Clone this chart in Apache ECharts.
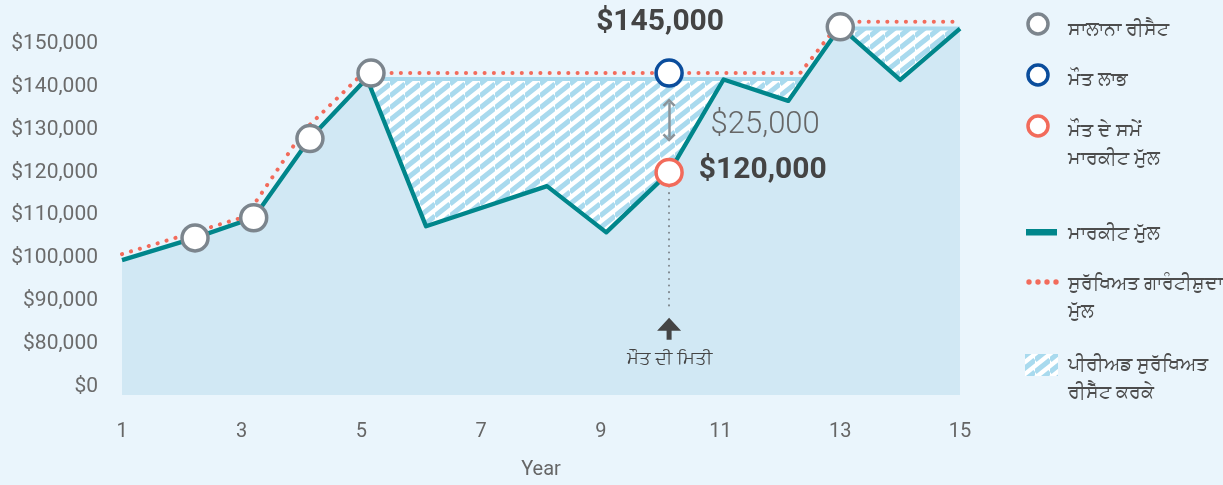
<!DOCTYPE html>
<html>
<head>
<meta charset="utf-8">
<script src="https://cdn.jsdelivr.net/npm/echarts@6/dist/echarts.min.js"></script>
<style>
  html, body { margin: 0; padding: 0; background: #eaf5fc; }
  #chart { width: 1223px; height: 485px; }
</style>
</head>
<body>
<div id="chart"></div>
<script>
// market value (teal line)
const marketYears = [1, 2.22, 3.2, 4.14, 5.09, 6.08, 8.1, 9.09, 10.14, 11.05, 12.13, 13, 14, 15]
const marketValues = [99500, 104700, 109400, 127900, 142000, 107400, 116800, 106000, 120000, 141700, 136700, 154000, 141600, 153600]

// protected guaranteed value (dotted red)
const guaranteedYears = [1, 3.07, 4.04, 5.03, 12.33, 13, 15]
const guaranteedValues = [100900, 109700, 129800, 143200, 143200, 155200, 155200]

// annual resets (grey circles)
const resetYears = [2.22, 3.2, 4.14, 5.16, 13]
const resetValues = [104700, 109400, 127900, 143200, 154000]

// locked-in level of the hatched area
const lockedYears = [5.09, 12.4, 13, 15]
const lockedValues = [141800, 141800, 153600, 153600]

// death point
const deathYear = 10.14
const deathBenefit = 143200
const deathMarketValue = 120000
const deathLabels = ['$145,000', '$120,000', '$25,000']

const yTickValues = [70000, 80000, 90000, 100000, 110000, 120000, 130000, 140000, 150000]
const yTickLabels = ['$0', '$80,000', '$90,000', '$100,000', '$110,000', '$120,000', '$130,000', '$140,000', '$150,000']

const legendNames = [
  'ਸਾਲਾਨਾ ਰੀਸੈਟ',
  'ਮੌਤ ਲਾਭ',
  'ਮੌਤ ਦੇ ਸਮੇਂ\nਮਾਰਕੀਟ ਮੁੱਲ',
  'ਮਾਰਕੀਟ ਮੁੱਲ',
  'ਸੁਰੱਖਿਅਤ ਗਾਰੰਟੀਸ਼ੁਦਾ\nਮੁੱਲ',
  'ਪੀਰੀਅਡ ਸੁਰੱਖਿਅਤ\nਰੀਸੈੱਟ ਕਰਕੇ'
]
const deathDateLabel = 'ਮੌਤ ਦੀ ਮਿਤੀ'

const TEAL = '#00868b'
const RED = '#f26b5b'
const GREY = '#7c858d'
const BLUE = '#0b4d9c'
const AREA = '#d1e8f4'
const STRIPE = '#a9daee'

function zip(xs, ys) {
  return xs.map((x, i) => [x, ys[i]])
}

// diagonal stripe tile for the hatched area
function stripeTile() {
  const w = 15
  const h = 12
  const c = document.createElement('canvas')
  c.width = w
  c.height = h
  const g = c.getContext('2d')
  g.fillStyle = '#ffffff'
  g.fillRect(0, 0, w, h)
  g.strokeStyle = STRIPE
  g.lineWidth = 5
  for (let k = -1; k <= 2; k++) {
    g.beginPath()
    g.moveTo(0, h * k)
    g.lineTo(w, h * k - h)
    g.stroke()
  }
  return c
}
const stripes = { image: stripeTile(), repeat: 'repeat' }

const chevron = 'path://M0,9 L9,0 L18,9 L15.5,11.5 L9,5 L2.5,11.5 Z'
const upArrow = 'path://M0,13 L12,0 L24,13 L14.5,13 L14.5,22 L9.5,22 L9.5,13 Z'

const chart = echarts.init(document.getElementById('chart'))

const numFont = 'Roboto, sans-serif'
const textFont = '"Noto Sans", sans-serif'

function legendText(y, text) {
  return {
    type: 'text',
    left: 1068,
    top: y,
    style: {
      text: text,
      fill: '#4d4d4d',
      font: '18.5px ' + textFont,
      lineHeight: 28
    }
  }
}

chart.setOption({
  backgroundColor: '#eaf5fc',
  animation: false,
  grid: { left: 122, right: 263, top: 14, bottom: 86 },
  xAxis: {
    type: 'value',
    min: 1,
    max: 15,
    interval: 2,
    name: 'Year',
    nameLocation: 'middle',
    nameGap: 65,
    nameTextStyle: { color: '#666', fontSize: 20, fontFamily: numFont },
    axisLine: { show: false },
    axisTick: { show: false },
    splitLine: { show: false },
    axisLabel: { color: '#666', fontSize: 20, fontFamily: numFont, margin: 27 }
  },
  yAxis: {
    type: 'value',
    min: 68000,
    max: 157000,
    axisLine: { show: false },
    axisTick: { show: false },
    splitLine: { show: false },
    axisLabel: {
      customValues: yTickValues,
      formatter: v => yTickLabels[yTickValues.indexOf(v)],
      color: '#6b6b6b',
      fontSize: 21,
      fontFamily: numFont,
      margin: 24
    }
  },
  series: [
    {
      name: legendNames[5],
      type: 'line',
      data: zip(lockedYears, lockedValues),
      symbol: 'none',
      silent: true,
      z: 1,
      lineStyle: { color: STRIPE, width: 4 },
      areaStyle: { color: stripes, opacity: 1, origin: 'start' }
    },
    {
      name: legendNames[3],
      type: 'line',
      data: zip(marketYears, marketValues),
      symbol: 'none',
      silent: true,
      z: 2,
      lineStyle: { color: TEAL, width: 4.3, join: 'round' },
      areaStyle: { color: AREA, opacity: 1, origin: 'start' }
    },
    {
      name: legendNames[4],
      type: 'line',
      data: zip(guaranteedYears, guaranteedValues),
      symbol: 'none',
      silent: true,
      z: 3,
      lineStyle: { color: RED, width: 4, type: [0.1, 9.2], cap: 'round' }
    },
    {
      name: legendNames[0],
      type: 'scatter',
      data: zip(resetYears, resetValues),
      symbolSize: 26,
      silent: true,
      z: 4,
      itemStyle: { color: '#fff', borderColor: GREY, borderWidth: 3.5, opacity: 1 }
    },
    {
      name: legendNames[1],
      type: 'scatter',
      symbolSize: 26,
      silent: true,
      z: 5,
      itemStyle: { color: '#fff', borderWidth: 3.5, opacity: 1 },
      data: [
        {
          value: [deathYear, deathBenefit],
          itemStyle: { borderColor: BLUE },
          label: {
            show: true,
            position: 'inside',
            offset: [-9, -51],
            formatter: deathLabels[0],
            color: '#444',
            fontSize: 30,
            fontWeight: 'bold',
            fontFamily: numFont
          }
        },
        {
          value: [deathYear, deathMarketValue],
          itemStyle: { borderColor: RED },
          label: {
            show: true,
            position: 'right',
            distance: 15,
            offset: [0, -2],
            formatter: deathLabels[1],
            color: '#444',
            fontSize: 30,
            fontWeight: 'bold',
            fontFamily: numFont
          }
        }
      ],
      markLine: {
        silent: true,
        animation: false,
        symbol: ['none', 'none'],
        label: { show: false },
        data: [
          [
            { coord: [deathYear, 136300], symbol: chevron, symbolSize: [13, 8.3], lineStyle: { color: '#8a9399', width: 2.5, type: 'solid' } },
            { coord: [deathYear, 128100], symbol: chevron, symbolSize: [13, 8.3], lineStyle: { color: '#8a9399', width: 2.5, type: 'solid' } }
          ],
          [
            { coord: [deathYear, 116700], symbol: 'none', lineStyle: { color: '#7f878d', width: 2, type: [0.1, 6.5], cap: 'round' } },
            { coord: [deathYear, 88000], symbol: 'none', lineStyle: { color: '#7f878d', width: 2, type: [0.1, 6.5], cap: 'round' } }
          ]
        ]
      },
      markPoint: {
        silent: true,
        animation: false,
        data: [
          {
            coord: [deathYear, 83500],
            symbol: upArrow,
            symbolSize: [24, 22],
            itemStyle: { color: '#444' },
            label: {
              show: true,
              position: 'bottom',
              distance: 10,
              formatter: deathDateLabel,
              color: '#444',
              fontSize: 17.5,
              fontFamily: textFont
            }
          },
          {
            coord: [deathYear, 130900],
            symbol: 'circle',
            symbolSize: 1,
            itemStyle: { color: 'rgba(0,0,0,0)' },
            label: {
              show: true,
              position: 'right',
              distance: 41,
              formatter: deathLabels[2],
              color: '#666',
              fontSize: 31,
              fontWeight: 300,
              fontFamily: numFont
            }
          }
        ]
      }
    }
  ],
  graphic: [
    { type: 'circle', shape: { cx: 1038, cy: 24, r: 10 }, style: { fill: '#fff', stroke: GREY, lineWidth: 3.5 } },
    legendText(16, legendNames[0]),
    { type: 'circle', shape: { cx: 1038, cy: 75, r: 10 }, style: { fill: '#fff', stroke: BLUE, lineWidth: 3.5 } },
    legendText(66, legendNames[1]),
    { type: 'circle', shape: { cx: 1038, cy: 126, r: 10 }, style: { fill: '#fff', stroke: RED, lineWidth: 3.5 } },
    legendText(117, legendNames[2]),
    { type: 'rect', shape: { x: 1026, y: 229, width: 31, height: 6.5 }, style: { fill: TEAL } },
    legendText(220, legendNames[3]),
    { type: 'circle', shape: { cx: 1029, cy: 282, r: 2.7 }, style: { fill: RED } },
    { type: 'circle', shape: { cx: 1038, cy: 282, r: 2.7 }, style: { fill: RED } },
    { type: 'circle', shape: { cx: 1047, cy: 282, r: 2.7 }, style: { fill: RED } },
    { type: 'circle', shape: { cx: 1056, cy: 282, r: 2.7 }, style: { fill: RED } },
    legendText(270, legendNames[4]),
    { type: 'rect', shape: { x: 1025, y: 354, width: 33, height: 22 }, style: { fill: stripes } },
    legendText(351, legendNames[5])
  ]
})
</script>
</body>
</html>
